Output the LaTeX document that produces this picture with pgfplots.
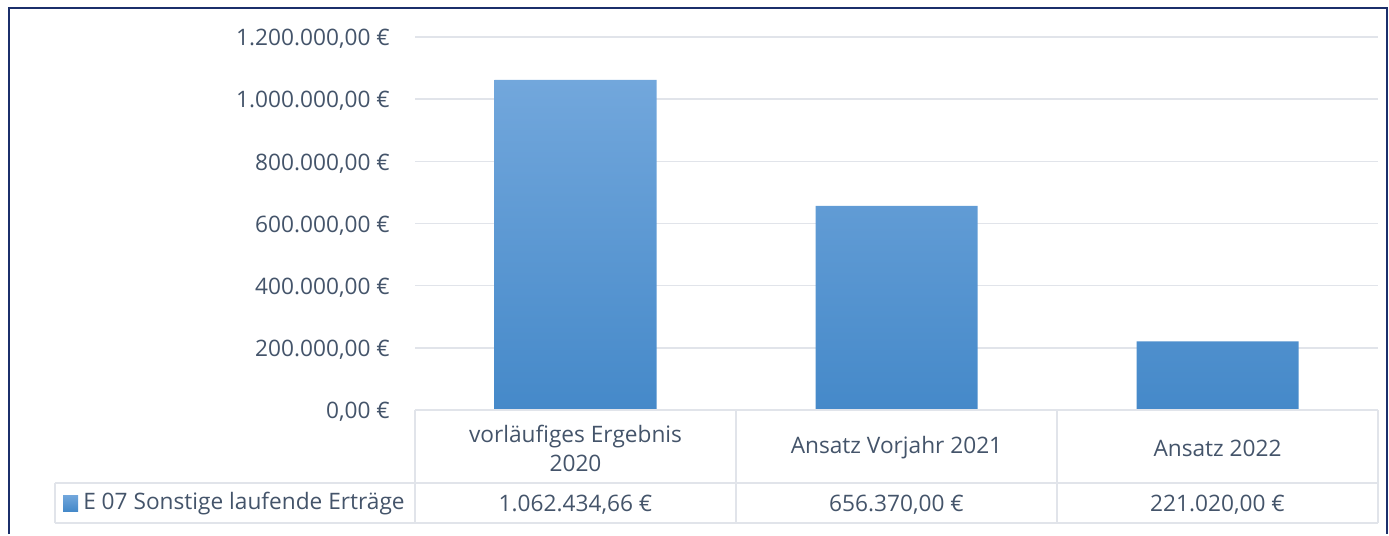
\documentclass[border=0pt]{standalone}
\usepackage{fontspec}
\setmainfont{Open Sans}
\usepackage{pgfplots}
\pgfplotsset{compat=1.18}
\definecolor{txt}{HTML}{44546A}
\definecolor{gridc}{HTML}{E1E4EA}
\definecolor{framec}{HTML}{1B2F6B}
\definecolor{bartop}{HTML}{72A7DC}
\definecolor{barmid}{HTML}{5A9DDE}
\definecolor{barbot}{HTML}{4589C9}
\newcommand{\lf}{\fontsize{17}{21.75}\selectfont}
\begin{document}
\begin{tikzpicture}
\begin{scope}[x=0.75pt,y=-0.75pt]
\useasboundingbox (0,0) rectangle (1389,534);
\end{scope}
\begin{axis}[
  at={(311.25pt,-307.5pt)}, anchor=south west,
  scale only axis, width=722.25pt, height=279.75pt,
  xmin=-0.5, xmax=2.5, ymin=0, ymax=1200000,
  axis line style={draw=none}, major tick length=0pt,
  ymajorgrids, grid style={gridc, line width=1.2pt},
  xtick=\empty, scaled y ticks=false,
  ytick={0,200000,400000,600000,800000,1000000,1200000},
  yticklabels={{0,00 €},{200.000,00 €},{400.000,00 €},{600.000,00 €},{800.000,00 €},{1.000.000,00 €},{1.200.000,00 €}},
  yticklabel style={text=txt, font=\lf, anchor=east, inner sep=0pt, xshift=-18.75pt, yshift=-1.5pt},
  clip=false,
]
\addplot[ybar, bar width=121.5pt, draw=none, top color=bartop, middle color=barmid, bottom color=barbot] coordinates {(0,1062434.66) (1,656370) (2,221020)};
\end{axis}
\begin{scope}[x=0.75pt,y=-0.75pt]
\draw[gridc, line width=1.5pt] (415,410) -- (1378,410);
\draw[gridc, line width=1.5pt] (55,483) -- (1378,483);
\draw[gridc, line width=1.5pt] (55,523) -- (1378,523);
\draw[gridc, line width=1.5pt] (55,483) -- (55,523);
\foreach \xx in {415,736,1057,1378} \draw[gridc, line width=1.5pt] (\xx,410) -- (\xx,523);
\node[text=txt, font=\lf, align=center] at (575.5,448) {vorläufiges Ergebnis\\2020};
\node[text=txt, font=\lf] at (896.5,448) {Ansatz Vorjahr 2021};
\node[text=txt, font=\lf] at (1217.5,448) {Ansatz 2022};
\node[text=txt, font=\lf] at (575.5,505) {1.062.434,66 €};
\node[text=txt, font=\lf] at (896.5,505) {656.370,00 €};
\node[text=txt, font=\lf] at (1217.5,505) {221.020,00 €};
\shade[top color=bartop, bottom color=barbot] (63,495) rectangle (78,511);
\node[text=txt, font=\lf, anchor=west, inner sep=0pt] at (83,504) {E 07 Sonstige laufende Erträge};
\draw[framec, line width=2pt] (9,534) -- (9,8) -- (1387,8) -- (1387,534);
\end{scope}
\end{tikzpicture}
\end{document}
